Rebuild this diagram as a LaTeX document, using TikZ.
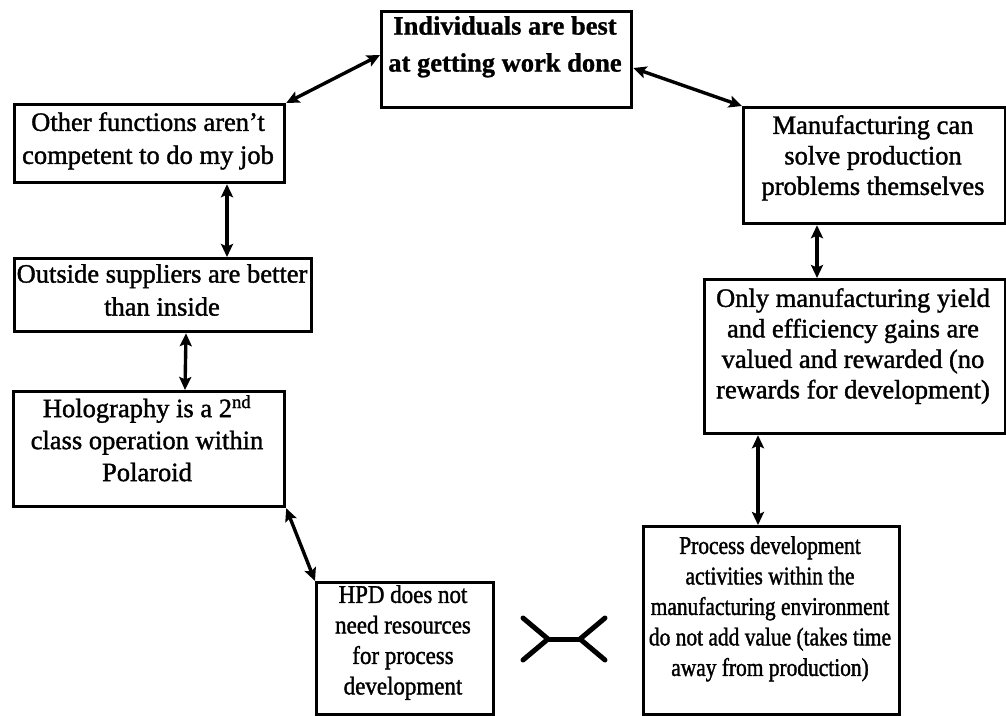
\documentclass[tikz,border=0pt]{standalone}
\usepackage{fontspec}
\setmainfont[FakeBold=1.4]{Liberation Serif}
\newfontfamily\hpdserif[FakeStretch=0.9,FakeBold=1.4]{Liberation Serif}
\newfontfamily\procserif[FakeStretch=0.84,FakeBold=1.4]{Liberation Serif}
\newfontfamily\heavyserif[FakeBold=1]{Liberation Serif Bold}
\usetikzlibrary{arrows.meta,calc}

\begin{document}
\begin{tikzpicture}[x=1pt,y=-1pt,
  box/.style={draw, line width=3.2pt, inner sep=0pt, anchor=north west},
  txt/.style={anchor=north, align=center, inner sep=0pt},
  wide/.style={font=\fontsize{26.5}{33}\selectfont},
  right side/.style={font=\fontsize{26.5}{30.5}\selectfont},
  link/.style={line width=3.4pt,
    {Stealth[length=13pt,width=12pt,inset=2.5pt]}-{Stealth[length=13pt,width=12pt,inset=2.5pt]}},
  cross/.style={line width=5pt, line cap=round, line join=round}
]
\useasboundingbox (0,0) rectangle (1006,715);

% boxes
\node[box, minimum width=250pt, minimum height=96pt]  (ind)     at (380,10)  {};
\node[box, minimum width=270pt, minimum height=78pt]  (other)   at (13,103)  {};
\node[box, minimum width=297pt, minimum height=73pt]  (outside) at (13,257)  {};
\node[box, minimum width=271pt, minimum height=115pt] (holo)    at (12,390)  {};
\node[box, minimum width=177pt, minimum height=132pt] (hpd)     at (315,581) {};
\node[box, minimum width=262pt, minimum height=116pt] (manu)    at (742,106) {};
\node[box, minimum width=301pt, minimum height=154pt] (only)    at (703,278) {};
\node[box, minimum width=256pt, minimum height=188pt] (proc)    at (642,525) {};

% texts
\node[txt, font=\heavyserif\fontsize{26.5}{37}\selectfont] (indT) at (505,16)
  {Individuals are best\\at getting work done};
\node[txt, wide] (otherT) at (148,112)
  {Other functions aren’t\\competent to do my job};
\node[txt, wide] (outsideT) at (162,264)
  {Outside suppliers are better\\than inside};
\node[txt, font=\fontsize{26.5}{32}\selectfont] (holoT) at (147,395)
  {Holography is a 2\textsuperscript{nd}\\class operation within\\Polaroid};
\node[txt, font=\hpdserif\fontsize{25.5}{30.5}\selectfont] (hpdT) at (403,585)
  {HPD does not\\need resources\\for process\\development};
\node[txt, right side] (manuT) at (873,115)
  {Manufacturing can\\solve production\\problems themselves};
\node[txt, right side] (onlyT) at (853,288)
  {Only manufacturing yield\\and efficiency gains are\\valued and rewarded (no\\rewards for development)};
\node[txt, font=\procserif\fontsize{25.5}{30.5}\selectfont] (procT) at (770,536)
  {Process development\\activities within the\\manufacturing environment\\do not add value (takes time\\away from production)};

% two-way links
\draw[link] ($(ind.north west)+(0,45)$) -- (other.north east);
\draw[link] ($(ind.north east)+(0,58)$) -- (manu.north west);
\draw[link] ($(other.south west)+(214,0)$) -- ($(outside.north west)+(214,0)$);
\draw[link] ($(outside.south west)+(173,0)$) -- ($(holo.north west)+(173,0)$);
\draw[link] (holo.south east) -- (hpd.north west);
\draw[link] ($(manu.south west)+(75,0)$) -- ($(only.north west)+(114,0)$);
\draw[link] ($(only.south west)+(55,0)$) -- ($(proc.north west)+(116,0)$);

% conflict mark between the two bottom beliefs
\coordinate (cl) at (548,639);
\coordinate (cr) at (580,639);
\draw[cross] (523,618) -- (cl) -- (523,660);
\draw[cross] (cl) -- (cr);
\draw[cross] (605,618) -- (cr) -- (605,660);
\end{tikzpicture}
\end{document}
